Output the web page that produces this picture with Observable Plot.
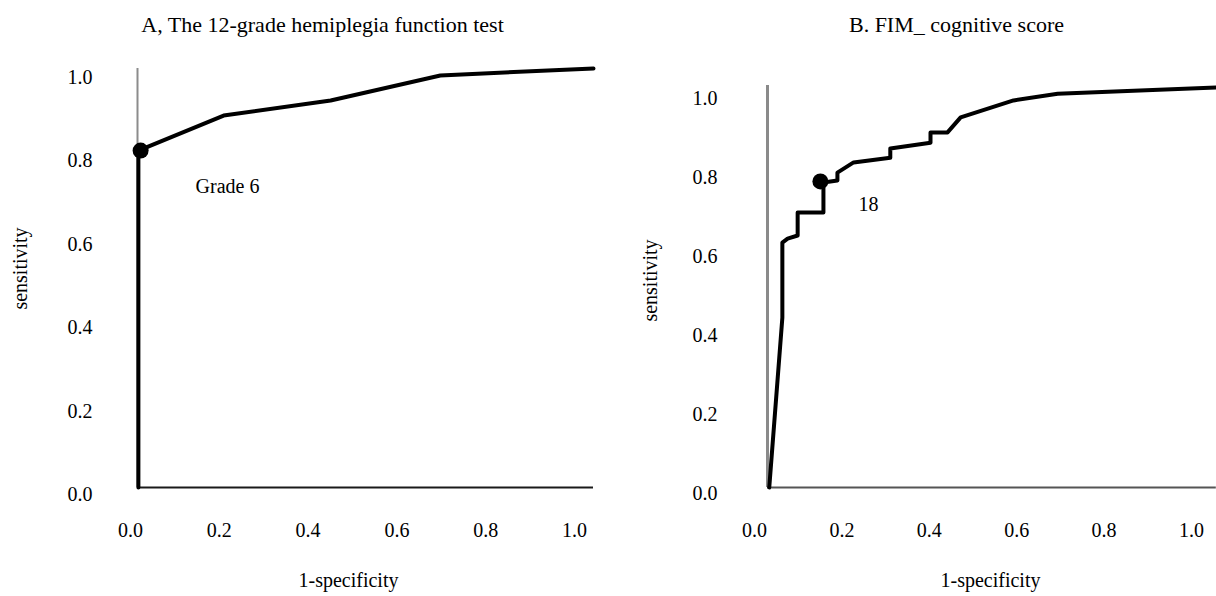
<!DOCTYPE html>
<html><head><meta charset="utf-8">
<script src="https://cdn.jsdelivr.net/npm/d3@7"></script>
<script src="https://cdn.jsdelivr.net/npm/@observablehq/plot@0.6"></script>
<style>
body{margin:0;background:#fff;}
#wrap{position:relative;width:1216px;height:596px;overflow:hidden;font-family:"Liberation Serif",serif;}
.panel{position:absolute;top:0;}
.panel svg, .panel svg text{font-family:"Liberation Serif",serif !important;}
</style></head><body><div id="wrap"></div>
<script>
// ---- data ----
const titles = ["A, The 12-grade hemiplegia function test", "B. FIM_ cognitive score"];
const xLabel = "1-specificity";
const yLabel = "sensitivity";
const tickValues = [0, 0.2, 0.4, 0.6, 0.8, 1.0];

const fprA = [0.002, 0.002, 0.194, 0.435, 0.682, 1.027];
const tprA = [0, 0.808, 0.892, 0.928, 0.988, 1.005];

const fprB = [0.004, 0.034, 0.034, 0.046, 0.069, 0.069, 0.128, 0.128, 0.160, 0.160, 0.197, 0.281, 0.281, 0.373, 0.373, 0.412, 0.442, 0.563, 0.664, 1.027];
const tprB = [0, 0.430, 0.620, 0.630, 0.638, 0.696, 0.696, 0.772, 0.777, 0.797, 0.823, 0.835, 0.858, 0.873, 0.899, 0.899, 0.937, 0.980, 0.997, 1.013];

const cutFpr = [0.007, 0.121];
const cutTpr = [0.808, 0.775];
const cutLabels = ["Grade 6", "18"];

const axisTop = [1.005, 1.018];
const axisRight = [1.027, 1.027];

// ---- drawing ----
const font = '"Liberation Serif", serif';
const fmt = d3.format(".1f");

function panel(i, cfg) {
  const fpr = i === 0 ? fprA : fprB;
  const tpr = i === 0 ? tprA : tprB;
  const curve = fpr.map((x, k) => ({fpr: x, tpr: tpr[k]}));
  const cut = [{fpr: cutFpr[i], tpr: cutTpr[i], label: cutLabels[i]}];
  return Plot.plot({
    width: 608, height: 596,
    marginLeft: cfg.ml, marginRight: cfg.mr, marginTop: cfg.mt, marginBottom: cfg.mb,
    style: {fontFamily: font, fontSize: "20px", color: "#000", background: "transparent", overflow: "visible"},
    x: {domain: [0, 1]},
    y: {domain: [0, 1]},
    marks: [
      Plot.ruleX([0], {y1: 0, y2: axisTop[i], stroke: cfg.vColor, strokeWidth: cfg.vWidth}),
      Plot.ruleY([0], {x1: 0, x2: axisRight[i], stroke: cfg.hColor, strokeWidth: 2}),
      Plot.line(curve, {x: "fpr", y: "tpr", stroke: "#000", strokeWidth: 4}),
      Plot.dot(cut, {x: "fpr", y: "tpr", r: 8, fill: "#000", stroke: "none"}),
      Plot.text(cut, {x: "fpr", y: "tpr", text: "label", dx: cfg.cdx, dy: cfg.cdy, textAnchor: "start", fontSize: 20, fontFamily: font, fill: "#000"}),
      Plot.axisX({ticks: tickValues, tickSize: 0, tickPadding: 35, dx: cfg.xdx, tickFormat: fmt, label: null, fontSize: 20, fontFamily: font}),
      Plot.axisY({ticks: tickValues, tickSize: 0, tickPadding: cfg.ypad, dy: cfg.ydy, tickFormat: fmt, label: null, fontSize: 20, fontFamily: font}),
      Plot.text([xLabel], {frameAnchor: "bottom", textAnchor: "middle", lineAnchor: "middle", dx: cfg.xtdx, dy: 93, fontSize: 20, fontFamily: font, fill: "#000"}),
      Plot.text([yLabel], {frameAnchor: "left", textAnchor: "middle", lineAnchor: "middle", rotate: -90, dx: cfg.ytdx, dy: cfg.ytdy, fontSize: 20, fontFamily: font, fill: "#000"}),
      Plot.text([titles[i]], {frameAnchor: "top", textAnchor: "middle", lineAnchor: "middle", dx: cfg.tdx, dy: cfg.tdy, fontSize: 22, fontFamily: font, fill: "#000"})
    ]
  });
}

const wrap = document.getElementById("wrap");
const cfgs = [
  {ml: 137, mr: 27, mt: 70, mb: 109, xdx: -7, ydy: 7, ypad: 45, vColor: "#8c8c8c", vWidth: 2, hColor: "#1a1a1a",
   cdx: 55, cdy: 36, xtdx: -11, ytdx: -117, ytdy: -10.5, tdx: -37, tdy: -46},
  {ml: 159, mr: 12, mt: 92, mb: 109, xdx: -13, ydy: 6, ypad: 50, vColor: "#8a8a8a", vWidth: 3, hColor: "#555",
   cdx: 38, cdy: 23, xtdx: 4.5, ytdx: -117, ytdy: -9.5, tdx: -29.5, tdy: -68}
];
cfgs.forEach((cfg, i) => {
  const d = document.createElement("div");
  d.className = "panel";
  d.style.left = (i * 608) + "px";
  d.appendChild(panel(i, cfg));
  wrap.appendChild(d);
});
</script></body></html>
